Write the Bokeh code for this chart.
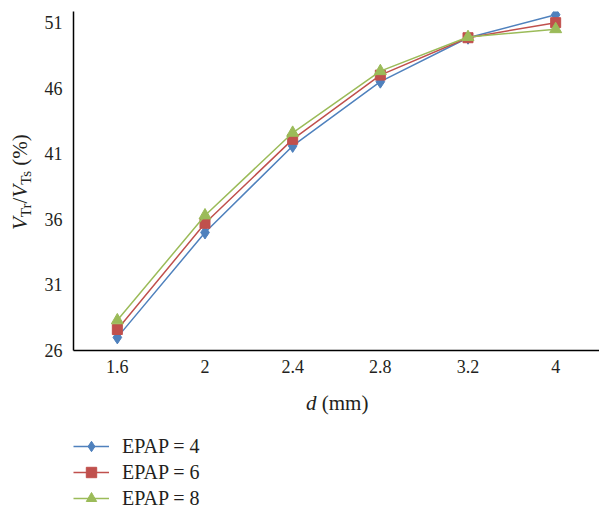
from bokeh.plotting import figure
from bokeh.models import (FactorRange, Range1d, FixedTicker, Legend, LegendItem, Div)
from bokeh.layouts import row, column
from bokeh.embed import file_html
from bokeh.resources import INLINE

# ---- data ----
d_labels = ["1.6", "2", "2.4", "2.8", "3.2", "4"]
epap4 = [27.0, 35.0, 41.6, 46.5, 49.85, 51.6]
epap6 = [27.6, 35.7, 42.1, 47.0, 49.85, 51.0]
epap8 = [28.3, 36.3, 42.6, 47.3, 49.9, 50.5]
y_ticks = [26, 31, 36, 41, 46, 51]
series_names = ["EPAP = 4", "EPAP = 6", "EPAP = 8"]
y_label_html = '<i>V</i><sub>Tr</sub>/<i>V</i><sub>Ts</sub> (%)'
x_label_html = '<i>d</i> (mm)'

BLUE = "#4F81BD"
RED = "#C0504D"
GREEN = "#9BBB59"
FONT = "Liberation Serif"
TXT = "#231f20"
styles = [(BLUE, "diamond", 13), (RED, "square", 10), (GREEN, "triangle", 12)]

# ---- main plot ----
p = figure(width=559, height=382,
           x_range=FactorRange(*d_labels, range_padding=0),
           y_range=Range1d(26, 51.85),
           output_backend="svg", toolbar_location=None,
           min_border_left=33, min_border_right=0,
           min_border_top=11, min_border_bottom=32)

p.outline_line_color = None
p.xgrid.grid_line_color = None
p.ygrid.grid_line_color = None
p.background_fill_alpha = 0
p.border_fill_alpha = 0

for ax in (p.xaxis[0], p.yaxis[0]):
    ax.axis_line_color = "black"
    ax.axis_line_width = 1.5
    ax.major_tick_line_color = None
    ax.minor_tick_line_color = None
    ax.major_tick_out = 0
    ax.major_tick_in = 0
    ax.major_label_text_font = FONT
    ax.major_label_text_font_size = "18px"
    ax.major_label_text_color = TXT
    ax.axis_label = None

p.yaxis[0].ticker = FixedTicker(ticks=y_ticks)
p.yaxis[0].major_label_standoff = 11
p.xaxis[0].major_label_standoff = 9

for vals, (color, marker, size) in zip([epap4, epap6, epap8], styles):
    p.line(d_labels, vals, line_color=color, line_width=1.5)
    p.scatter(d_labels, vals, marker=marker, size=size,
              fill_color=color, line_color=color)

# ---- legend panel (legend keys use NaN proxy renderers, nothing plotted) ----
p2 = figure(width=559, height=130, x_range=Range1d(0, 1), y_range=Range1d(0, 1),
            x_axis_type=None, y_axis_type=None,
            output_backend="svg", toolbar_location=None,
            min_border=0, min_border_left=0, min_border_right=0,
            min_border_top=0, min_border_bottom=0)
p2.outline_line_color = None
p2.background_fill_alpha = 0
p2.border_fill_alpha = 0

nan = float("nan")
items = []
for name, (color, marker, size) in zip(series_names, styles):
    l = p2.line(x=[nan, nan], y=[nan, nan], line_color=color, line_width=1.5)
    s = p2.scatter(x=[nan], y=[nan], marker=marker, size=size,
                   fill_color=color, line_color=color)
    items.append(LegendItem(label=name, renderers=[l, s]))

legend = Legend(items=items, location=(0, 1), orientation="vertical",
                padding=0, margin=0, spacing=0,
                glyph_width=36, glyph_height=26, label_height=26,
                label_standoff=13,
                label_text_font=FONT, label_text_font_size="20px",
                label_text_color=TXT,
                border_line_alpha=0, background_fill_alpha=0)
p2.add_layout(legend)

# ---- axis titles as HTML text (rotated y title, italic d) ----
txt_style = ("position:absolute; white-space:nowrap; font-family:'Liberation Serif'; "
             "font-size:21px; line-height:21px; color:%s;" % TXT)
sub_style = "font-size:15px; vertical-align:-4px; line-height:0;"
y_html = y_label_html.replace("<sub>", '<sub style="%s">' % sub_style)
html = (
    '<div style="position:relative; width:40px; height:512px;">'
    '<div style="%s left:10px; top:230px; transform:rotate(-90deg); '
    'transform-origin:0 0;">%s</div>'
    '<div style="%s left:306px; top:393px;">%s</div>'
    '</div>'
) % (txt_style, y_html, txt_style, x_label_html)

labels_div = Div(text=html, width=40, height=512, margin=0)

layout = row(labels_div, column(p, p2))
open("out.html", "w").write(file_html(layout, INLINE))
